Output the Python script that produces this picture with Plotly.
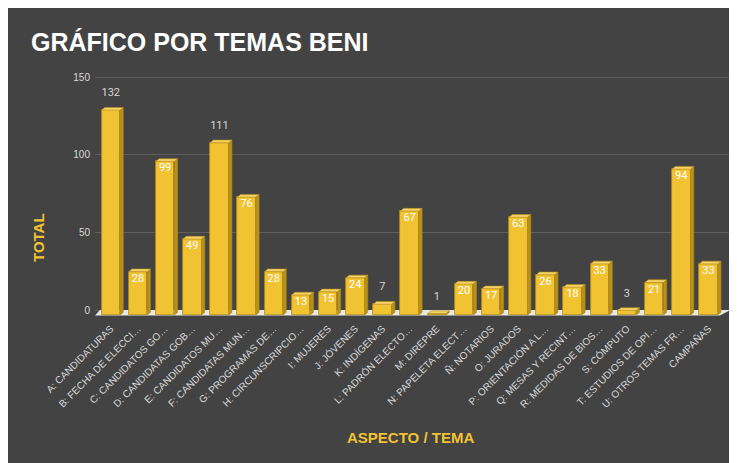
import plotly.graph_objects as go

categories = [
    "A: CANDIDATURAS", "B: FECHA DE ELECCI…", "C: CANDIDATOS GO…", "D: CANDIDATAS GOB…",
    "E: CANDIDATOS MU…", "F: CANDIDATAS MUN…", "G: PROGRAMAS DE…", "H: CIRCUNSCRIPCIO…",
    "I: MUJERES", "J: JÓVENES", "K: INDÍGENAS", "L: PADRÓN ELECTO…", "M: DIREPRE",
    "N: PAPELETA ELECT…", "Ñ: NOTARIOS", "O: JURADOS", "P: ORIENTACIÓN A L…",
    "Q: MESAS Y RECINT…", "R: MEDIDAS DE BIOS…", "S: CÓMPUTO", "T: ESTUDIOS DE OPI…",
    "U: OTROS TEMAS FR…", "CAMPAÑAS",
]
totals = [132, 28, 99, 49, 111, 76, 28, 13, 15, 24, 7, 67, 1, 20, 17, 63, 26, 18, 33, 3, 21, 94, 33]
label_outside = [True, False, False, False, True, False, False, False, False, False, True, False,
                 True, False, False, False, False, False, False, True, False, False, False]
y_ticks = [0, 50, 100, 150]

W, H = 737, 463
OFF = 8  # page body margin
ML, MR, MT, MB = 95 - OFF, 14, 60 - OFF, 151
PW, PH = W - ML - MR, H - MT - MB


def px_x(px):
    # screen px -> paper fraction
    return (px - OFF - ML) / PW


def px_y(py):
    return (H - MB - (py - OFF)) / PH


BG = "#434343"
YEL = "#F1C232"
SIDE = "#B8911C"
TOP = "#F6D46A"
EDGE = "#B38B12"

idx = list(range(len(categories)))
half_w = 0.34
dx, dy = 0.12, 1.75
base = -3.3

fig = go.Figure()

# front faces
fig.add_trace(go.Bar(
    x=idx, y=totals, base=base, width=2 * half_w,
    marker=dict(color=YEL, line=dict(color=EDGE, width=0.8)),
    hoverinfo="skip", showlegend=False,
))

# side and top faces
sx, sy, tx, ty = [], [], [], []
for i, v in zip(idx, totals):
    top = v + base
    r = i + half_w
    l = i - half_w
    sx += [r, r + dx, r + dx, r, r, None]
    sy += [base, base + dy, top + dy, top, base, None]
    tx += [l, r, r + dx, l + dx, l, None]
    ty += [top, top, top + dy, top + dy, top, None]

fig.add_trace(go.Scatter(x=sx, y=sy, mode="lines", fill="toself", fillcolor=SIDE,
                         line=dict(color=EDGE, width=0.6), hoverinfo="skip", showlegend=False))
fig.add_trace(go.Scatter(x=tx, y=ty, mode="lines", fill="toself", fillcolor=TOP,
                         line=dict(color=EDGE, width=0.6), hoverinfo="skip", showlegend=False))

# value labels
in_x = [i for i, o in zip(idx, label_outside) if not o]
in_y = [v - 8 for v, o in zip(totals, label_outside) if not o]
in_t = [str(v) for v, o in zip(totals, label_outside) if not o]
out_x = [i for i, o in zip(idx, label_outside) if o]
out_y = [v + 7.4 for v, o in zip(totals, label_outside) if o]
out_t = [str(v) for v, o in zip(totals, label_outside) if o]

fig.add_trace(go.Scatter(x=in_x, y=in_y, text=in_t, mode="text",
                         textfont=dict(color="#ffffff", size=11, family="Roboto"),
                         hoverinfo="skip", showlegend=False))
fig.add_trace(go.Scatter(x=out_x, y=out_y, text=out_t, mode="text",
                         textfont=dict(color="#d6d6d6", size=11, family="Roboto"),
                         hoverinfo="skip", showlegend=False))

x_lo, x_hi = -0.58, 22.83
fdx, fdy = 0.18, 3.6

shapes = [
    # floor
    dict(type="path", xref="x", yref="y",
         path=f"M {x_lo},{-fdy} L {22.42},{-fdy} L {22.42 + fdx + 0.2},0 L {x_lo + fdx},0 Z",
         fillcolor="#e8e8e8", line=dict(width=0), layer="between"),
]

fig.update_layout(
    width=W, height=H,
    margin=dict(l=ML, r=MR, t=MT, b=MB),
    paper_bgcolor=BG,
    plot_bgcolor="rgba(0,0,0,0)",
    shapes=shapes,
    bargap=0,
    title=dict(text="<b>GRÁFICO POR TEMAS BENI</b>", x=(31 - OFF) / W, xanchor="left",
               y=1 - (42 - OFF) / H, yanchor="middle", yref="container",
               font=dict(family="Liberation Sans, Arial", size=25, color="#ffffff")),
    xaxis=dict(range=[x_lo, x_hi], tickvals=idx, ticktext=categories, tickangle=-45,
               showgrid=False, zeroline=False, showline=False, ticks="",
               tickfont=dict(family="Liberation Sans, Arial", size=10, color="#d9d9d9")),
    yaxis=dict(range=[-(320 - 310) / 1.553, 250 / 1.553], tickvals=y_ticks,
               showgrid=True, gridcolor="#5e5e5e", gridwidth=1, zeroline=False,
               showline=False, ticks="", ticklabelstandoff=4,
               tickfont=dict(family="Liberation Sans, Arial", size=10, color="#d9d9d9")),
    annotations=[
        dict(text="<b>TOTAL</b>", xref="paper", yref="paper", x=px_x(38), y=px_y(238),
             xanchor="center", yanchor="middle",
             showarrow=False, textangle=-90,
             font=dict(family="Liberation Sans, Arial", size=15, color=YEL)),
        dict(text="<b>ASPECTO / TEMA</b>", xref="paper", yref="paper", x=px_x(410), y=px_y(437),
             xanchor="center", yanchor="middle",
             showarrow=False,
             font=dict(family="Liberation Sans, Arial", size=15, color=YEL)),
    ],
)

fig.write_html("out.html")
